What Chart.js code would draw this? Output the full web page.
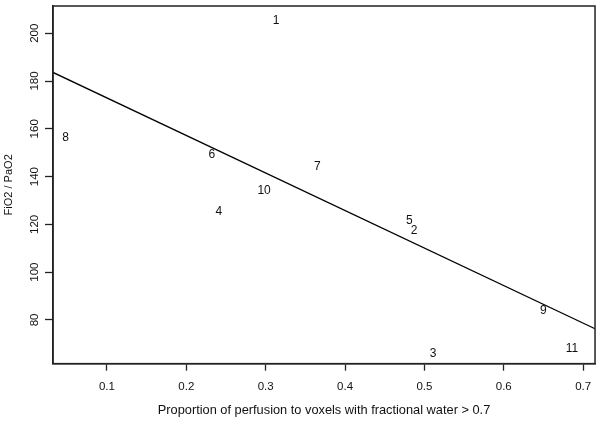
<!DOCTYPE html>
<html>
<head>
<meta charset="utf-8">
<script src="https://cdn.jsdelivr.net/npm/chart.js@4.4.0/dist/chart.umd.min.js"></script>
<style>
  html, body { margin: 0; padding: 0; background: #fff; }
  #c { display: block; }
</style>
</head>
<body>
<canvas id="c" width="600" height="423"></canvas>
<script>
// Data
const pointLabels = ["1", "2", "3", "4", "5", "6", "7", "8", "9", "10", "11"];
const xValues = [0.313, 0.487, 0.511, 0.241, 0.481, 0.232, 0.365, 0.048, 0.650, 0.298, 0.686];
const yValues = [205.1, 117.5, 65.8, 125.4, 121.7, 149.2, 144.0, 156.2, 83.8, 134.0, 67.9];
const fitX = [0.032, 0.715];
const fitY = [183.6, 76.3];
const xTicks = [0.1, 0.2, 0.3, 0.4, 0.5, 0.6, 0.7];
const yTicks = [80, 100, 120, 140, 160, 180, 200];
const xTitle = "Proportion of perfusion to voxels with fractional water > 0.7";
const yTitle = "FiO2 / PaO2";

const FONT = "'Liberation Sans', Arial, sans-serif";

const labelPlugin = {
  id: 'pointText',
  afterDatasetsDraw(chart) {
    const ctx = chart.ctx;
    const meta = chart.getDatasetMeta(0);
    ctx.save();
    ctx.fillStyle = '#111';
    ctx.font = "12px " + FONT;
    ctx.textAlign = 'center';
    ctx.textBaseline = 'middle';
    meta.data.forEach((el, i) => {
      ctx.fillText(pointLabels[i], el.x, el.y);
    });
    ctx.restore();
  }
};

// Rotated (R-style) y tick labels, placed with the y scale
const yLabelPlugin = {
  id: 'yLabels',
  afterDraw(chart) {
    const s = chart.scales.y;
    const ctx = chart.ctx;
    ctx.save();
    ctx.fillStyle = '#111';
    ctx.font = "11.5px " + FONT;
    ctx.textAlign = 'center';
    ctx.textBaseline = 'middle';
    const cx = s.right - 8 - 10;
    s.ticks.forEach(t => {
      const py = s.getPixelForValue(t.value);
      ctx.save();
      ctx.translate(cx, py);
      ctx.rotate(-Math.PI / 2);
      ctx.fillText(String(t.value), 0, 0);
      ctx.restore();
    });
    ctx.restore();
  }
};

const boxPlugin = {
  id: 'box',
  afterDraw(chart) {
    const a = chart.chartArea;
    const ctx = chart.ctx;
    ctx.save();
    ctx.strokeStyle = '#222';
    ctx.lineWidth = 1.5;
    ctx.strokeRect(a.left, a.top, a.right - a.left, a.bottom - a.top);
    ctx.restore();
  }
};

new Chart(document.getElementById('c'), {
  type: 'scatter',
  data: {
    datasets: [
      {
        data: xValues.map((x, i) => ({ x: x, y: yValues[i] })),
        pointRadius: 0,
        showLine: false
      },
      {
        type: 'line',
        data: fitX.map((x, i) => ({ x: x, y: fitY[i] })),
        borderColor: '#000',
        borderWidth: 1.3,
        pointRadius: 0,
        fill: false
      }
    ]
  },
  options: {
    responsive: false,
    animation: false,
    layout: { padding: { top: 6, right: 4, left: 0, bottom: 0 } },
    plugins: { legend: { display: false }, tooltip: { enabled: false } },
    scales: {
      x: {
        type: 'linear',
        min: 0.032,
        max: 0.715,
        afterBuildTicks: s => { s.ticks = xTicks.map(v => ({ value: v })); },
        grid: { drawOnChartArea: false, drawTicks: true, tickLength: 7, tickColor: '#222', tickWidth: 1.3 },
        border: { display: true, color: '#222', width: 1.5 },
        ticks: { color: '#111', font: { family: FONT, size: 11.5 }, padding: 8.8, maxRotation: 0, minRotation: 0, callback: v => String(v) },
        title: { display: true, text: xTitle, color: '#111', font: { family: FONT, size: 12.8 }, padding: { top: 0.8, bottom: 4.8 } }
      },
      y: {
        type: 'linear',
        min: 61.7,
        max: 211.4,
        afterBuildTicks: s => { s.ticks = yTicks.map(v => ({ value: v })); },
        grid: { drawOnChartArea: false, drawTicks: true, tickLength: 8, tickColor: '#222', tickWidth: 1.3 },
        border: { display: true, color: '#222', width: 1.5 },
        ticks: { display: false },
        title: { display: true, text: yTitle, color: '#111', font: { family: FONT, size: 11 }, padding: { top: 2.5, bottom: 29.3 } }
      }
    }
  },
  plugins: [labelPlugin, yLabelPlugin, boxPlugin]
});
</script>
</body>
</html>
